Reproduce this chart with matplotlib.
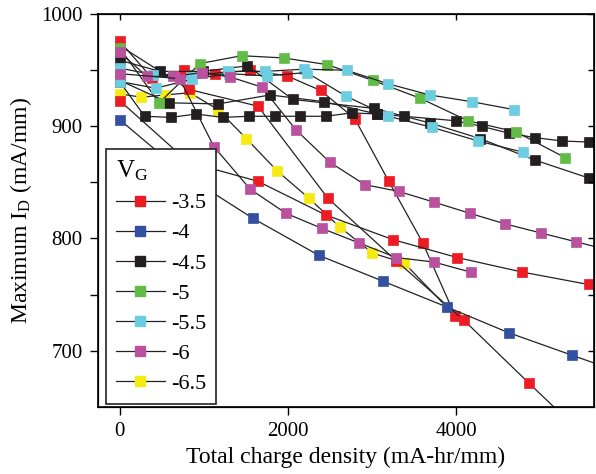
import matplotlib
matplotlib.use('Agg')
import matplotlib.pyplot as plt
from matplotlib.lines import Line2D

plt.rcParams['font.family'] = 'serif'
plt.rcParams['font.serif'] = ['Liberation Serif', 'DejaVu Serif']
plt.rcParams['mathtext.fontset'] = 'stix'

# V_G = -3.5 (red), three devices
x_35a = [0, 385, 765, 1135, 1555, 1990, 2390, 2795, 3200, 3605, 3990]
y_35a = [976, 943, 950, 947, 950, 945, 932, 907, 851, 796, 731]
x_35b = [0, 820, 1645, 2450, 3250, 4015, 4790, 5575]
y_35b = [923, 868, 851, 821, 799, 783, 770, 759]
x_35c = [0, 820, 1645, 2475, 3290, 4095, 4867, 5690]
y_35c = [972, 933, 918, 836, 780, 727, 671, 612]

# V_G = -4 (blue)
x_40 = [0, 790, 1584, 2368, 3128, 3888, 4625, 5375, 6130]
y_40 = [906, 856, 818, 785, 762, 739, 716, 696, 676]

# V_G = -4.5 (black)
x_45a = [0, 297, 610, 910, 1224, 1536, 1842, 2142, 2448, 2760, 3060, 3380,
         3995, 4305, 4625, 4935, 5255, 5575]
y_45a = [940, 909, 908, 911, 908, 909, 909, 909, 909, 912, 911, 909,
         905, 900, 894, 890, 887, 886]
x_45b = [0, 480, 990, 1520, 2060, 3025, 3690, 4290, 4935, 5575]
y_45b = [959, 949, 949, 954, 924, 916, 903, 889, 870, 854]
x_45c = [0, 587, 1170, 1790, 2430, 3060]
y_45c = [941, 921, 920, 928, 922, 911]

# V_G = -5 (green)
x_50 = [0, 470, 955, 1450, 1953, 2470, 3010, 3576, 4140, 4715, 5300]
y_50 = [970, 921, 956, 963, 961, 955, 941, 925, 905, 895, 872]

# V_G = -5.5 (cyan)
x_55a = [0, 400, 850, 1290, 1725, 2190, 2700, 3190, 3687, 4185, 4685]
y_55a = [952, 946, 944, 949, 949, 951, 950, 938, 928, 922, 915]
x_55b = [0, 428, 860, 1300, 1750, 2225, 2690, 3195, 3720, 4260, 4795]
y_55b = [940, 934, 942, 947, 945, 948, 927, 909, 899, 887, 877]

# V_G = -6 (magenta)
x_60a = [0, 325, 633, 978, 1318, 1690, 2095, 2500, 2915, 3318, 3735, 4162,
         4585, 5005, 5430, 5850]
y_60a = [966, 944.5, 944.5, 948, 944, 935, 897, 868, 848, 842, 832.5, 822.5,
         813, 805, 797, 789]
x_60b = [0, 713, 1120, 1552, 1977, 2405, 2847, 3290, 3735, 4175]
y_60b = [947, 942.5, 882, 844, 822.5, 809, 796, 783, 779, 770]

# V_G = -6.5 (yellow)
x_65 = [0, 257, 542, 835, 1168, 1508, 1877, 2250, 2621, 3006, 3386, 3888]
y_65 = [929, 926, 928, 930, 915, 889, 860, 836, 810, 787, 778, 739]

vg_labels = ['-3.5', '-4', '-4.5', '-5', '-5.5', '-6', '-6.5']
vg_colors = ['#ED1C24', '#3351A0', '#231F20', '#62BB46', '#6DCDE0', '#B9519E', '#F7EA12']
vg_series = [
    [(x_35a, y_35a), (x_35b, y_35b), (x_35c, y_35c)],
    [(x_40, y_40)],
    [(x_45a, y_45a), (x_45b, y_45b), (x_45c, y_45c)],
    [(x_50, y_50)],
    [(x_55a, y_55a), (x_55b, y_55b)],
    [(x_60a, y_60a), (x_60b, y_60b)],
    [(x_65, y_65)],
]

fig = plt.figure(figsize=(5.96, 4.74), dpi=100)
ax = fig.add_axes([0.164, 0.142, 0.8326, 0.828])

draw_order = [6, 0, 1, 2, 3, 4, 5]
for i in draw_order:
    c = vg_colors[i]
    for xs, ys in vg_series[i]:
        ax.plot(xs, ys, '-', color='#222222', lw=0.9, marker='s', ms=7,
                mfc=c, mec=c, mew=0.5)

ax.set_xlim(-260, 5640)
ax.set_ylim(650, 1000)
ax.set_xticks([0, 2000, 4000])
ax.set_yticks([700, 800, 900, 1000])
ax.set_yticks([750, 850, 950], minor=True)
ax.tick_params(direction='out', length=5.5, width=1, labelsize=15, pad=5.5)
ax.tick_params(which='minor', direction='out', length=5.5, width=1)
for s in ax.spines.values():
    s.set_linewidth(1.2)

# inward ticks on top and right
axt = ax.twiny()
axt.set_xlim(ax.get_xlim())
axt.set_xticks([0, 2000, 4000])
axt.tick_params(direction='in', length=4, width=1, labeltop=False)
axr = ax.twinx()
axr.set_ylim(ax.get_ylim())
axr.set_yticks([700, 800, 900, 1000])
axr.set_yticks([750, 850, 950], minor=True)
axr.tick_params(which='both', direction='in', length=4, width=1, labelright=False)

ax.set_xlabel('Total charge density (mA-hr/mm)', fontsize=17, labelpad=4)
ax.set_ylabel(r'Maximum I$_\mathregular{D}$ (mA/mm)', fontsize=17, labelpad=5)

handles = [Line2D([], [], color='#222222', lw=0.9, marker='s', ms=7,
                  mfc=c, mec=c) for c in vg_colors]
leg = ax.legend(handles, vg_labels, title=r'V$_\mathregular{G}$', loc='lower left',
                bbox_to_anchor=(0.016, 0.007), borderaxespad=0, fontsize=16,
                title_fontsize=18, frameon=True, fancybox=False, framealpha=1,
                edgecolor='#222222', handlelength=2.2, handletextpad=0.3,
                labelspacing=0.43, borderpad=0.45, numpoints=1)
leg._legend_box.align = 'left'
leg.get_frame().set_linewidth(1.2)
leg.set_zorder(5)

fig.savefig('out.png', dpi=100)
